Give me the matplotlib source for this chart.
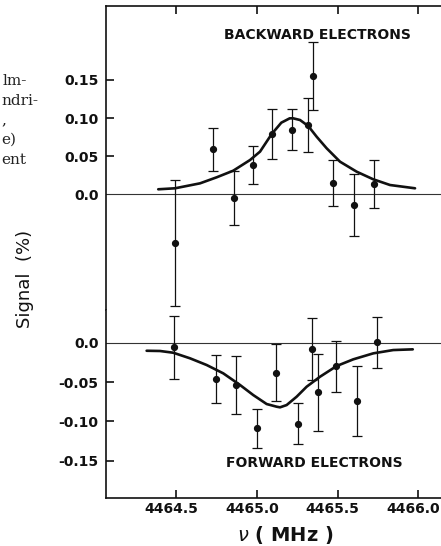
import matplotlib
matplotlib.use("Agg")
import matplotlib.pyplot as plt
from matplotlib.transforms import ScaledTranslation

# ---------------- data ----------------
# Backward electrons (upper panel)
back_freq = [4464.49, 4464.726, 4464.86, 4464.974, 4465.091, 4465.215,
             4465.315, 4465.348, 4465.471, 4465.604, 4465.726]
back_sig = [-0.064, 0.059, -0.005, 0.038, 0.079, 0.085,
            0.091, 0.155, 0.015, -0.014, 0.0135]
back_err = [0.083, 0.028, 0.035, 0.025, 0.033, 0.027,
            0.036, 0.045, 0.030, 0.041, 0.031]
back_fit_freq = [4464.388, 4464.492, 4464.647, 4464.750, 4464.853, 4464.957,
                 4465.019, 4465.091, 4465.151, 4465.203, 4465.225, 4465.267,
                 4465.318, 4465.370, 4465.432, 4465.515, 4465.618, 4465.721,
                 4465.825, 4465.980]
back_fit_sig = [0.0066, 0.0079, 0.0144, 0.0223, 0.031, 0.045,
                0.056, 0.079, 0.094, 0.0997, 0.0997, 0.0975,
                0.0896, 0.0756, 0.0604, 0.0428, 0.0297, 0.0197,
                0.0122, 0.0079]

# Forward electrons (lower panel)
fwd_freq = [4464.488, 4464.748, 4464.872, 4464.998, 4465.116, 4465.254,
            4465.339, 4465.377, 4465.49, 4465.622, 4465.742]
fwd_sig = [-0.006, -0.046, -0.054, -0.109, -0.038, -0.103,
           -0.008, -0.063, -0.030, -0.074, 0.0005]
fwd_err = [0.040, 0.030, 0.037, 0.025, 0.036, 0.026,
           0.040, 0.049, 0.032, 0.044, 0.032]
fwd_fit_freq = [4464.316, 4464.399, 4464.481, 4464.585, 4464.688, 4464.791,
                4464.895, 4464.977, 4465.060, 4465.122, 4465.143, 4465.184,
                4465.246, 4465.308, 4465.391, 4465.494, 4465.597, 4465.721,
                4465.845, 4465.966]
fwd_fit_sig = [-0.0102, -0.0105, -0.0127, -0.0198, -0.0283, -0.0389,
               -0.0537, -0.0665, -0.0779, -0.0813, -0.0821, -0.0792,
               -0.0686, -0.0559, -0.0432, -0.0296, -0.0211, -0.0135,
               -0.0093, -0.0084]

x_ticks = [4464.5, 4465.0, 4465.5, 4466.0]
x_ticklabels = ["4464.5", "4465.0", "4465.5", "4466.0"]
up_ticks = [0.0, 0.05, 0.10, 0.15]
up_ticklabels = ["0.0", "0.05", "0.10", "0.15"]
low_ticks = [0.0, -0.05, -0.10, -0.15]
low_ticklabels = ["0.0", "-0.05", "-0.10", "-0.15"]

margin_lines = ["lm-", "ndri-", ",", "e)", "ent"]

# ---------------- figure ----------------
W, H = 441, 546
fig = plt.figure(figsize=(W / 100, H / 100), dpi=100)

left = 105.5 / W
top_px, split_px, bot_px = 6.0, 310.0, 497.5
ax1 = fig.add_axes([left, 1 - split_px / H, 1 - left, (split_px - top_px) / H])
ax2 = fig.add_axes([left, 1 - bot_px / H, 1 - left, (bot_px - split_px) / H])

xlim = (4464.061, 4466.141)
ink = "#111111"
tickfont = dict(family="DejaVu Sans", weight="bold", size=10)

for ax in (ax1, ax2):
    ax.set_xlim(*xlim)
    ax.spines["right"].set_visible(False)
    for s in ax.spines.values():
        s.set_linewidth(1.2)
        s.set_color(ink)
    ax.tick_params(direction="in", length=5.5, width=1.2, colors=ink, pad=5)

# upper panel
ax1.set_ylim(-0.1518, 0.2471)
ax1.spines["bottom"].set_visible(False)
ax1.xaxis.set_ticks_position("top")
ax1.set_xticks(x_ticks)
ax1.tick_params(axis="x", labeltop=False, labelbottom=False)
ax1.set_yticks(up_ticks)
ax1.set_yticklabels(up_ticklabels, fontdict=tickfont)
ax1.yaxis.get_major_ticks()[0].tick1line.set_visible(False)
ax1.axhline(0, color="#333333", lw=0.8, zorder=1)
ax1.plot(back_fit_freq, back_fit_sig, color=ink, lw=1.9,
         solid_capstyle="round", solid_joinstyle="round", zorder=2)
ax1.errorbar(back_freq, back_sig, yerr=back_err, fmt="o", color=ink,
             ms=4.2, elinewidth=0.9, capsize=3.5, capthick=0.9, clip_on=False,
             zorder=3)
ax1.text(0.632, 0.9046, "BACKWARD ELECTRONS", transform=ax1.transAxes,
         ha="center", va="center", fontsize=10, weight="bold", color=ink,
         family="DejaVu Sans")

# lower panel
ax2.set_ylim(-0.1967, 0.0416)
ax2.spines["top"].set_visible(False)
ax2.xaxis.set_ticks_position("bottom")
ax2.set_xticks(x_ticks)
ax2.tick_params(axis="x", pad=3)
ax2.set_xticklabels(x_ticklabels, fontdict=tickfont)
ax2.set_yticks(low_ticks)
ax2.set_yticklabels(low_ticklabels, fontdict=tickfont)
ax2.yaxis.get_major_ticks()[0].tick1line.set_visible(False)
ax2.axhline(0, color="#333333", lw=0.8, zorder=1)
ax2.plot(fwd_fit_freq, fwd_fit_sig, color=ink, lw=1.9,
         solid_capstyle="round", solid_joinstyle="round", zorder=2)
ax2.errorbar(fwd_freq, fwd_sig, yerr=fwd_err, fmt="o", color=ink,
             ms=4.2, elinewidth=0.9, capsize=3.5, capthick=0.9, clip_on=False,
             zorder=3)
ax2.text(0.6235, 0.1824, "FORWARD ELECTRONS", transform=ax2.transAxes,
         ha="center", va="center", fontsize=10, weight="bold", color=ink,
         family="DejaVu Sans")

# x tick labels sit a little left of their ticks in the reference
shift = ScaledTranslation(-5 / 100, 0, fig.dpi_scale_trans)
for lbl in ax2.get_xticklabels():
    lbl.set_transform(lbl.get_transform() + shift)

# axis labels
fig.text(25 / W, 1 - 279 / H, "Signal  (%)", rotation=90, ha="center",
         va="center", fontsize=13, color=ink, family="DejaVu Sans")
fig.text(285 / W, 1 - 535 / H, r"$\nu$ ( MHz )", ha="center",
         va="center", fontsize=14, weight="bold", color=ink,
         family="DejaVu Sans")

# text from the neighbouring page margin
margin_x = [3, 1, 1, 1, 1]
for i, s in enumerate(margin_lines):
    fig.text(margin_x[i] / W, 1 - (81 + 19.7 * i) / H, s, ha="left",
             va="center", fontsize=11, color="#222222", family="DejaVu Serif")

fig.savefig("out.png", dpi=100)
